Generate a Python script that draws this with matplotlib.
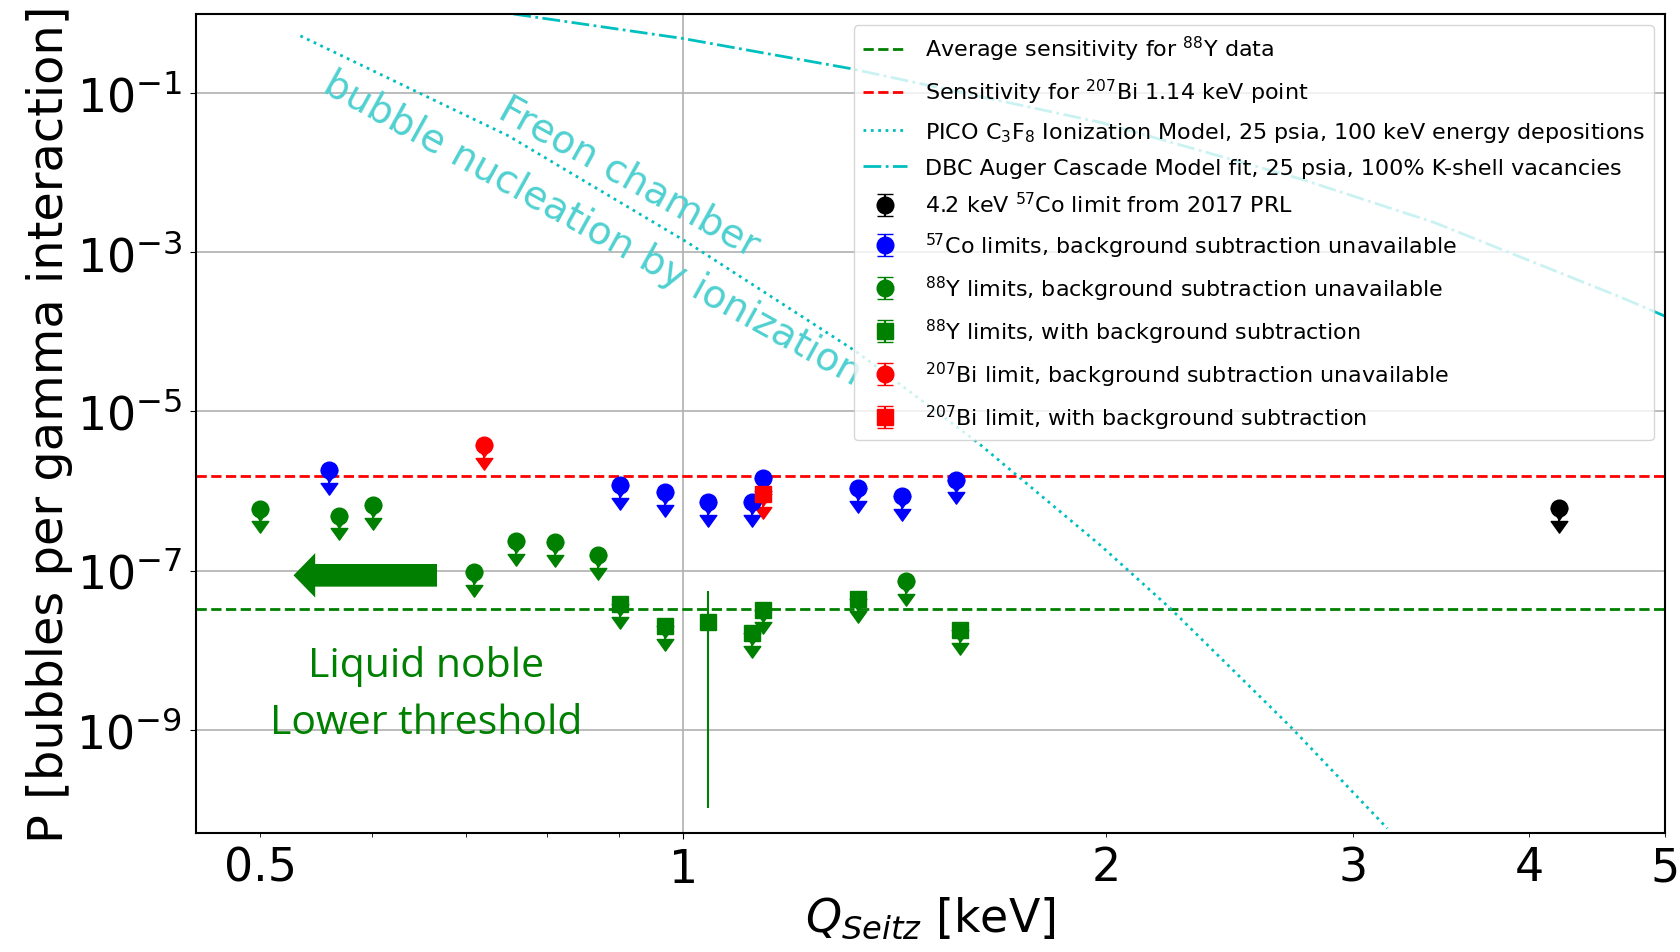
import numpy as np
import matplotlib.pyplot as plt
from matplotlib.markers import MarkerStyle
from matplotlib.path import Path
from matplotlib.transforms import Affine2D

# 57Co limits, background subtraction unavailable
co_q = [0.560, 0.902, 0.971, 1.042, 1.120, 1.140, 1.332, 1.432, 1.564]
co_p = [1.82e-6, 1.18e-6, 9.7e-7, 7.3e-7, 7.3e-7, 1.46e-6, 1.09e-6, 8.55e-7, 1.39e-6]

# 88Y limits, background subtraction unavailable
y_q = [0.500, 0.569, 0.601, 0.710, 0.760, 0.811, 0.870, 1.442]
y_p = [6.0e-7, 4.9e-7, 6.7e-7, 9.6e-8, 2.36e-7, 2.29e-7, 1.58e-7, 7.4e-8]

# 88Y limits, with background subtraction
ysub_q = [0.902, 0.971, 1.120, 1.140, 1.332, 1.573]
ysub_p = [3.76e-8, 2.01e-8, 1.64e-8, 3.23e-8, 4.43e-8, 1.79e-8]

# 88Y point with background subtraction that has a two sided error bar
ymeas_q = [1.042]
ymeas_p = [2.26e-8]
ymeas_lo = [1.02e-10]
ymeas_hi = [5.48e-8]

# 207Bi
bi_q = [0.721]
bi_p = [3.74e-6]
bisub_q = [1.140]
bisub_p = [9.25e-7]

# 4.2 keV 57Co from 2017 PRL
prl_q = [4.2]
prl_p = [6.1e-7]

# sensitivities
y_avg_sens = 3.26e-8
bi_sens = 1.54e-6

# PICO C3F8 ionization model
pico_q = [0.534, 0.751, 1.007, 1.330, 1.619, 1.982, 2.223, 2.707, 3.172]
pico_p = [0.53, 2.93e-2, 1.34e-3, 5.57e-5, 4.13e-6, 2.07e-7, 3.32e-8, 1.08e-9, 5.7e-11]

# DBC Auger cascade model fit
dbc_q = [0.757, 1.0, 1.315, 1.982, 2.752, 3.424, 4.652, 5.0]
dbc_p = [1.0, 0.491, 0.206, 0.0433, 8.4e-3, 2.39e-3, 2.73e-4, 1.58e-4]

# liquid noble threshold arrow
arrow_tip_q = 0.528
arrow_tail_q = 0.668
arrow_p = 8.7e-8

lim_frac = 0.31  # length of the upper-limit arrows

caret = MarkerStyle(Path([(-1, 0), (1, 0), (0, -1.4), (-1, 0)], closed=True),
                    transform=Affine2D().scale(1.4))


def limits(ax, q, p, fmt, color):
    p = np.array(p)
    eb = ax.errorbar(q, p, yerr=lim_frac * p, uplims=True, fmt=fmt, color=color,
                     ms=12, capsize=6, lw=1.5)
    for cl in eb[1]:
        cl.set_marker(caret)
    return eb


fig = plt.figure(figsize=(16.81, 9.53), dpi=100)
ax = fig.add_axes([0.1166, 0.1249, 0.8739, 0.8594])
ax.set_xscale('log')
ax.set_yscale('log')

h_avg = ax.axhline(y_avg_sens, color='g', ls='--', lw=2)
h_bi = ax.axhline(bi_sens, color='r', ls='--', lw=2)
h_pico, = ax.plot(pico_q, pico_p, color='c', ls=':', lw=2)
h_dbc, = ax.plot(dbc_q, dbc_p, color='c', ls='-.', lw=2)

e_prl = limits(ax, prl_q, prl_p, 'o', 'k')
e_co = limits(ax, co_q, co_p, 'o', 'b')
e_y = limits(ax, y_q, y_p, 'o', 'g')
e_ysub = limits(ax, ysub_q, ysub_p, 's', 'g')
ax.errorbar(ymeas_q, ymeas_p,
            yerr=[np.array(ymeas_p) - np.array(ymeas_lo), np.array(ymeas_hi) - np.array(ymeas_p)],
            fmt='s', color='g', ms=12, lw=1.5, capsize=0)
e_bi = limits(ax, bi_q, bi_p, 'o', 'r')
e_bisub = limits(ax, bisub_q, bisub_p, 's', 'r')

ax.set_xlim(0.45, 5)
ax.set_ylim(5e-11, 1)

ax.set_xticks([1], labels=['1'])
ax.set_xticks([0.5, 0.6, 0.7, 0.8, 0.9, 2, 3, 4, 5],
              labels=['0.5', '', '', '', '', '2', '3', '4', '5'], minor=True)
ax.set_yticks([1e-1, 1e-3, 1e-5, 1e-7, 1e-9])
ax.yaxis.set_minor_locator(plt.NullLocator())
ax.tick_params(which='both', labelsize=33, pad=6)
ax.tick_params(which='major', length=4)
ax.tick_params(which='minor', length=3)
ax.grid(True, which='major', color='#b0b0b0', lw=1.2)
for s in ax.spines.values():
    s.set_linewidth(1.5)

ax.set_xlabel(r'$Q_{Seitz}$ [keV]', fontsize=33, labelpad=2)
ax.set_ylabel('P [bubbles per gamma interaction]', fontsize=34.5, labelpad=2)

handles = [h_avg, h_bi, h_pico, h_dbc, e_prl, e_co, e_y, e_ysub, e_bi, e_bisub]
labels = [r'Average sensitivity for $^{88}$Y data',
          r'Sensitivity for $^{207}$Bi 1.14 keV point',
          r'PICO C$_3$F$_8$ Ionization Model, 25 psia, 100 keV energy depositions',
          'DBC Auger Cascade Model fit, 25 psia, 100% K-shell vacancies',
          r'4.2 keV $^{57}$Co limit from 2017 PRL',
          r'$^{57}$Co limits, background subtraction unavailable',
          r'$^{88}$Y limits, background subtraction unavailable',
          r'$^{88}$Y limits, with background subtraction',
          r'$^{207}$Bi limit, background subtraction unavailable',
          r'$^{207}$Bi limit, with background subtraction']
ax.legend(handles, labels, loc='upper right', fontsize=16, labelspacing=0.62)

# annotations added on top of the plot
tcol = '#4fd0d0'
ax.text(0.2948, 0.801, 'Freon chamber', transform=ax.transAxes, color=tcol,
        fontsize=28, rotation=-29, ha='center', va='center', rotation_mode='anchor')
ax.text(0.2703, 0.7387, 'bubble nucleation by ionization', transform=ax.transAxes,
        color=tcol, fontsize=28, rotation=-29, ha='center', va='center',
        rotation_mode='anchor')

ax.annotate('', xy=(arrow_tip_q, arrow_p), xytext=(arrow_tail_q, arrow_p),
            arrowprops=dict(arrowstyle='simple,head_length=15.6,head_width=32,tail_width=16.3',
                            color='#007f00', lw=0, shrinkA=0, shrinkB=0, mutation_scale=1))
ax.text(0.1564, 0.1913, 'Liquid noble', transform=ax.transAxes, color='#008000',
        fontsize=29.5, family='Open Sans', ha='center', va='baseline')
ax.text(0.1564, 0.1217, 'Lower threshold', transform=ax.transAxes, color='#008000',
        fontsize=29.5, family='Open Sans', ha='center', va='baseline')

fig.savefig('out.png', dpi=100)
